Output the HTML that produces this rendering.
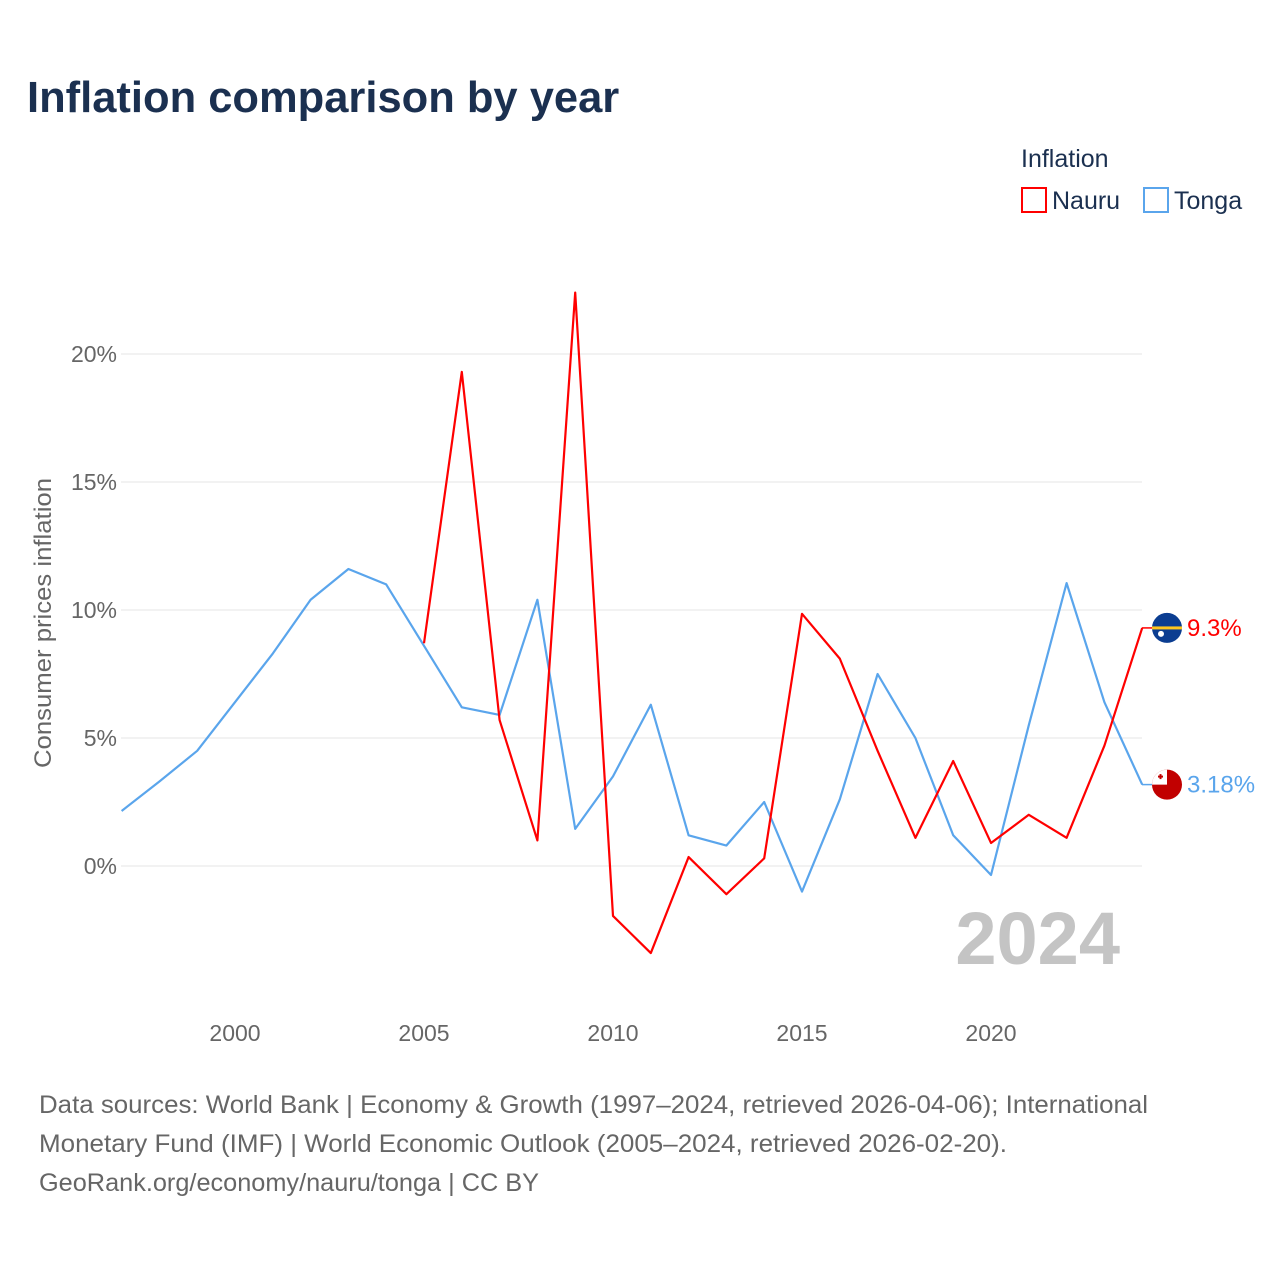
<!DOCTYPE html>
<html><head><meta charset="utf-8">
<style>
body{margin:0;background:#fff;font-family:"Liberation Sans",sans-serif;}
#wrap{position:relative;width:1280px;height:1280px;overflow:hidden;}
</style></head>
<body>
<div id="wrap">
<svg id="chart" width="1280" height="1280" xmlns="http://www.w3.org/2000/svg">
<text x="27" y="112" font-size="43.5" font-weight="bold" fill="#1b3050">Inflation comparison by year</text>
<text x="1021" y="167" font-size="25" fill="#1b3050">Inflation</text>
<g>
<rect x="1022" y="188" width="24" height="24" fill="none" stroke="#ff0000" stroke-width="2"/>
<text x="1052" y="209" font-size="25" fill="#1b3050">Nauru</text></g>
<g>
<rect x="1144" y="188" width="24" height="24" fill="none" stroke="#5aa5ec" stroke-width="2"/>
<text x="1174" y="209" font-size="25" fill="#1b3050">Tonga</text></g>
<text transform="translate(51,623) rotate(-90)" text-anchor="middle" font-size="24" fill="#666" textLength="290" lengthAdjust="spacingAndGlyphs">Consumer prices inflation</text>
<g id="grid"></g><g id="xt"></g><g id="series"></g>
<text x="1120" y="964" text-anchor="end" font-size="74" font-weight="bold" fill="#c4c4c4">2024</text>
<g font-size="25" fill="#666">
<text x="39" y="1113" textLength="1109" lengthAdjust="spacingAndGlyphs">Data sources: World Bank | Economy &amp; Growth (1997–2024, retrieved 2026-04-06); International</text>
<text x="39" y="1152" textLength="968" lengthAdjust="spacingAndGlyphs">Monetary Fund (IMF) | World Economic Outlook (2005–2024, retrieved 2026-02-20).</text>
<text x="39" y="1191" textLength="500" lengthAdjust="spacingAndGlyphs">GeoRank.org/economy/nauru/tonga | CC BY</text></g>
</svg>
</div>
<script>
const tongaYears=[1997,1998,1999,2000,2001,2002,2003,2004,2005,2006,2007,2008,2009,2010,2011,2012,2013,2014,2015,2016,2017,2018,2019,2020,2021,2022,2023,2024];
const tongaValues=[2.15,3.3,4.5,6.4,8.3,10.4,11.6,11.0,8.6,6.2,5.9,10.4,1.45,3.5,6.3,1.2,0.8,2.5,-1.0,2.6,7.5,5.0,1.2,-0.35,5.5,11.05,6.4,3.18];
const nauruYears=[2005,2006,2007,2008,2009,2010,2011,2012,2013,2014,2015,2016,2017,2018,2019,2020,2021,2022,2023,2024];
const nauruValues=[8.7,19.3,5.7,1.0,22.4,-1.95,-3.4,0.35,-1.1,0.3,9.85,8.1,4.5,1.1,4.1,0.9,2.0,1.1,4.7,9.3];
const yTicks=[0,5,10,15,20];
const xTicks=[2000,2005,2010,2015,2020];
const X=y=>235+(y-2000)*37.8;
const Y=v=>866-v*25.6;
const NS="http://www.w3.org/2000/svg";
function mk(t,a,p){const e=document.createElementNS(NS,t);for(const k in a)e.setAttribute(k,a[k]);p.appendChild(e);return e;}
const grid=document.getElementById('grid');
yTicks.forEach(v=>{
 const l=mk('line',{x1:121,x2:1142,y1:Y(v),y2:Y(v),stroke:'#e6e6e6','stroke-width':1},grid);
 
 
 const t=mk('text',{x:117,y:Y(v)+8,'text-anchor':'end','font-size':23,fill:'#666'},grid);
 t.textContent=v+'%';
 
 
});
const xt=document.getElementById('xt');
xTicks.forEach(y=>{
 const t=mk('text',{x:X(y),y:1041,'text-anchor':'middle','font-size':23,fill:'#666'},xt);
 t.textContent=y;
 
 
});
const s=document.getElementById('series');
function line(ys,vs,c,name){
 const p=mk('polyline',{points:ys.map((y,i)=>X(y)+','+Y(vs[i])).join(' '),fill:'none',stroke:c,'stroke-width':2.2,'stroke-linejoin':'round'},s);
 
 
}
line(tongaYears,tongaValues,'#5aa5ec','tonga-line');
line(nauruYears,nauruValues,'#ff0000','nauru-line');
function endLabel(v,c,txt,name,flag){
 const ly=Y(v);
 mk('line',{x1:1142,x2:1152,y1:ly,y2:ly,stroke:c,'stroke-width':1.5},s);
 const g=mk('g',{},s);
 
 
 flag(g,1167,ly);
 const t=mk('text',{x:1187,y:ly+8,'font-size':24,fill:c},s);
 t.textContent=txt;
 
 
}
endLabel(nauruValues[nauruValues.length-1],'#ff0000','9.3%','nauru',(g,x,y)=>{
 mk('circle',{cx:x,cy:y,r:15,fill:'#0b3d91'},g);
 mk('rect',{x:x-15,y:y-1.5,width:30,height:3,fill:'#ffc61e'},g);
 mk('circle',{cx:x-6,cy:y+6,r:3,fill:'#fff'},g);
});
endLabel(tongaValues[tongaValues.length-1],'#5aa5ec','3.18%','tonga',(g,x,y)=>{
 mk('circle',{cx:x,cy:y,r:15,fill:'#c10000'},g);
 mk('path',{d:`M${x-15},${y} A15,15 0 0 1 ${x},${y-15} L${x},${y} Z`,fill:'#fff'},g);
 mk('rect',{x:x-9,y:y-9,width:5,height:2,fill:'#c10000'},g);
 mk('rect',{x:x-7.5,y:y-10.5,width:2,height:5,fill:'#c10000'},g);
});
</script>
</body></html>
